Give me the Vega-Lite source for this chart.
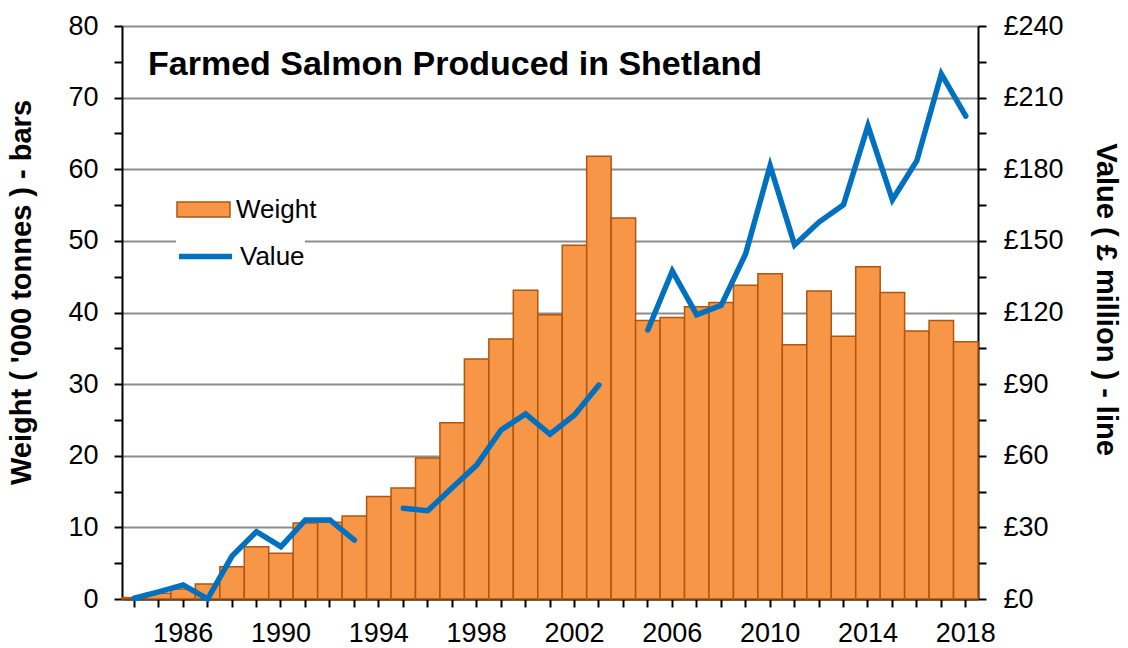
{
  "$schema": "https://vega.github.io/schema/vega-lite/v6.json",
  "width": 856,
  "height": 573,
  "autosize": "none",
  "padding": {"left": 122, "top": 26, "right": 150, "bottom": 49},
  "background": "white",
  "config": {"view": {"stroke": null}, "font": "Liberation Sans"},
  "title": {
    "text": "Farmed Salmon Produced in Shetland",
    "anchor": "start",
    "frame": "group",
    "font": "Liberation Sans",
    "fontSize": 34,
    "fontWeight": "bold",
    "color": "black",
    "baseline": "alphabetic",
    "offset": 0,
    "dx": 26,
    "dy": 97
  },
  "data": {
    "values": [
      {"year": 1984, "weight": 0.2, "value": 0.3},
      {"year": 1985, "weight": 0.8, "value": 3},
      {"year": 1986, "weight": 1.4, "value": 5.9},
      {"year": 1987, "weight": 2.1, "value": 0},
      {"year": 1988, "weight": 4.5, "value": 18},
      {"year": 1989, "weight": 7.3, "value": 28.2},
      {"year": 1990, "weight": 6.4, "value": 21.9},
      {"year": 1991, "weight": 10.6, "value": 33.1},
      {"year": 1992, "weight": 10.7, "value": 33.1},
      {"year": 1993, "weight": 11.6, "value": 24.7},
      {"year": 1994, "weight": 14.3, "value": null},
      {"year": 1995, "weight": 15.5, "value": 38},
      {"year": 1996, "weight": 19.7, "value": 37},
      {"year": 1997, "weight": 24.6, "value": 46.6},
      {"year": 1998, "weight": 33.5, "value": 56.1},
      {"year": 1999, "weight": 36.3, "value": 70.8},
      {"year": 2000, "weight": 43.1, "value": 77.5},
      {"year": 2001, "weight": 39.7, "value": 69},
      {"year": 2002, "weight": 49.4, "value": 77.1},
      {"year": 2003, "weight": 61.8, "value": 89.6},
      {"year": 2004, "weight": 53.2, "value": null},
      {"year": 2005, "weight": 38.9, "value": 112.7},
      {"year": 2006, "weight": 39.3, "value": 137.4},
      {"year": 2007, "weight": 40.8, "value": 119},
      {"year": 2008, "weight": 41.4, "value": 123},
      {"year": 2009, "weight": 43.8, "value": 144.6},
      {"year": 2010, "weight": 45.4, "value": 181.5},
      {"year": 2011, "weight": 35.5, "value": 148.3},
      {"year": 2012, "weight": 43.0, "value": 157.9},
      {"year": 2013, "weight": 36.7, "value": 165.1},
      {"year": 2014, "weight": 46.4, "value": 198.2},
      {"year": 2015, "weight": 42.8, "value": 167.2},
      {"year": 2016, "weight": 37.4, "value": 183.6},
      {"year": 2017, "weight": 38.9, "value": 219.9},
      {"year": 2018, "weight": 35.9, "value": 202.3}
    ]
  },
  "encoding": {
    "x": {
      "field": "year",
      "type": "ordinal",
      "scale": {"paddingInner": 0, "paddingOuter": 0},
      "axis": {
        "title": null,
        "labelExpr": "datum.value % 4 == 2 ? datum.label : ''",
        "labelAngle": 0,
        "labelOverlap": false,
        "labelFont": "Liberation Sans",
        "labelFontSize": 27,
        "labelColor": "black",
        "labelPadding": 13,
        "tickColor": "black",
        "tickWidth": 2,
        "tickSize": 8,
        "domainColor": "black",
        "domainWidth": 2,
        "grid": false
      }
    }
  },
  "layer": [
    {
      "mark": {"type": "bar", "stroke": "#B0560E", "strokeWidth": 1.5, "opacity": 1},
      "encoding": {
        "y": {
          "field": "weight",
          "type": "quantitative",
          "scale": {"domain": [0, 80], "nice": false},
          "axis": {
            "title": "Weight ( '000 tonnes ) - bars",
            "titleFont": "Liberation Sans",
            "titleFontSize": 29,
            "titleFontWeight": "bold",
            "titleColor": "black",
            "titlePadding": 31,
            "titleY": 266,
            "values": [0, 5, 10, 15, 20, 25, 30, 35, 40, 45, 50, 55, 60, 65, 70, 75, 80],
            "labelExpr": "datum.value % 10 == 0 ? datum.label : ''",
            "labelFont": "Liberation Sans",
            "labelFontSize": 27,
            "labelColor": "black",
            "labelPadding": 16,
            "tickColor": "black",
            "tickWidth": 2,
            "tickSize": 8,
            "domainColor": "black",
            "domainWidth": 2,
            "grid": true,
            "gridColor": "#8c8c8c",
            "gridWidth": 2,
            "gridOpacity": {"condition": {"test": "datum.value % 10 == 0", "value": 1}, "value": 0}
          }
        },
        "fill": {
          "datum": "Weight",
          "type": "nominal",
          "scale": {"domain": ["Weight"], "range": ["#F79646"]},
          "legend": {
            "title": null,
            "orient": "none",
            "legendX": 54,
            "legendY": 156,
            "padding": 0,
            "fillColor": "white",
            "labelFont": "Liberation Sans",
            "labelFontSize": 26,
            "labelColor": "black",
            "labelOffset": 5,
            "symbolType": "M-1,-0.283H1V0.283H-1Z",
            "symbolSize": 2809,
            "symbolStrokeColor": "#B0560E",
            "symbolStrokeWidth": 1.5,
            "symbolOpacity": 1
          }
        }
      }
    },
    {
      "mark": {"type": "line", "strokeWidth": 5.5, "strokeCap": "round", "strokeJoin": "miter", "invalid": "break-paths-show-domains"},
      "encoding": {
        "y": {
          "field": "value",
          "type": "quantitative",
          "scale": {"domain": [0, 240], "nice": false},
          "axis": {
            "orient": "right",
            "title": "Value ( £ million ) - line",
            "titleFont": "Liberation Sans",
            "titleFontSize": 29,
            "titleFontWeight": "bold",
            "titleColor": "black",
            "titlePadding": 27,
            "titleY": 273,
            "values": [0, 15, 30, 45, 60, 75, 90, 105, 120, 135, 150, 165, 180, 195, 210, 225, 240],
            "labelExpr": "datum.value % 30 == 0 ? '£' + datum.value : ''",
            "labelFont": "Liberation Sans",
            "labelFontSize": 27,
            "labelColor": "black",
            "labelPadding": 17,
            "tickColor": "black",
            "tickWidth": 2,
            "tickSize": 8,
            "domainColor": "black",
            "domainWidth": 2,
            "grid": false
          }
        },
        "stroke": {
          "datum": "Value",
          "type": "nominal",
          "scale": {"domain": ["Value"], "range": ["#0070C0"]},
          "legend": {
            "title": null,
            "orient": "none",
            "legendX": 54,
            "legendY": 201,
            "padding": 0,
            "fillColor": "white",
            "labelFont": "Liberation Sans",
            "labelFontSize": 26,
            "labelColor": "black",
            "labelOffset": 5,
            "symbolType": "stroke",
            "symbolSize": 2809,
            "symbolStrokeWidth": 5.5,
            "symbolOpacity": 1
          }
        }
      }
    }
  ],
  "resolve": {"scale": {"y": "independent"}}
}
